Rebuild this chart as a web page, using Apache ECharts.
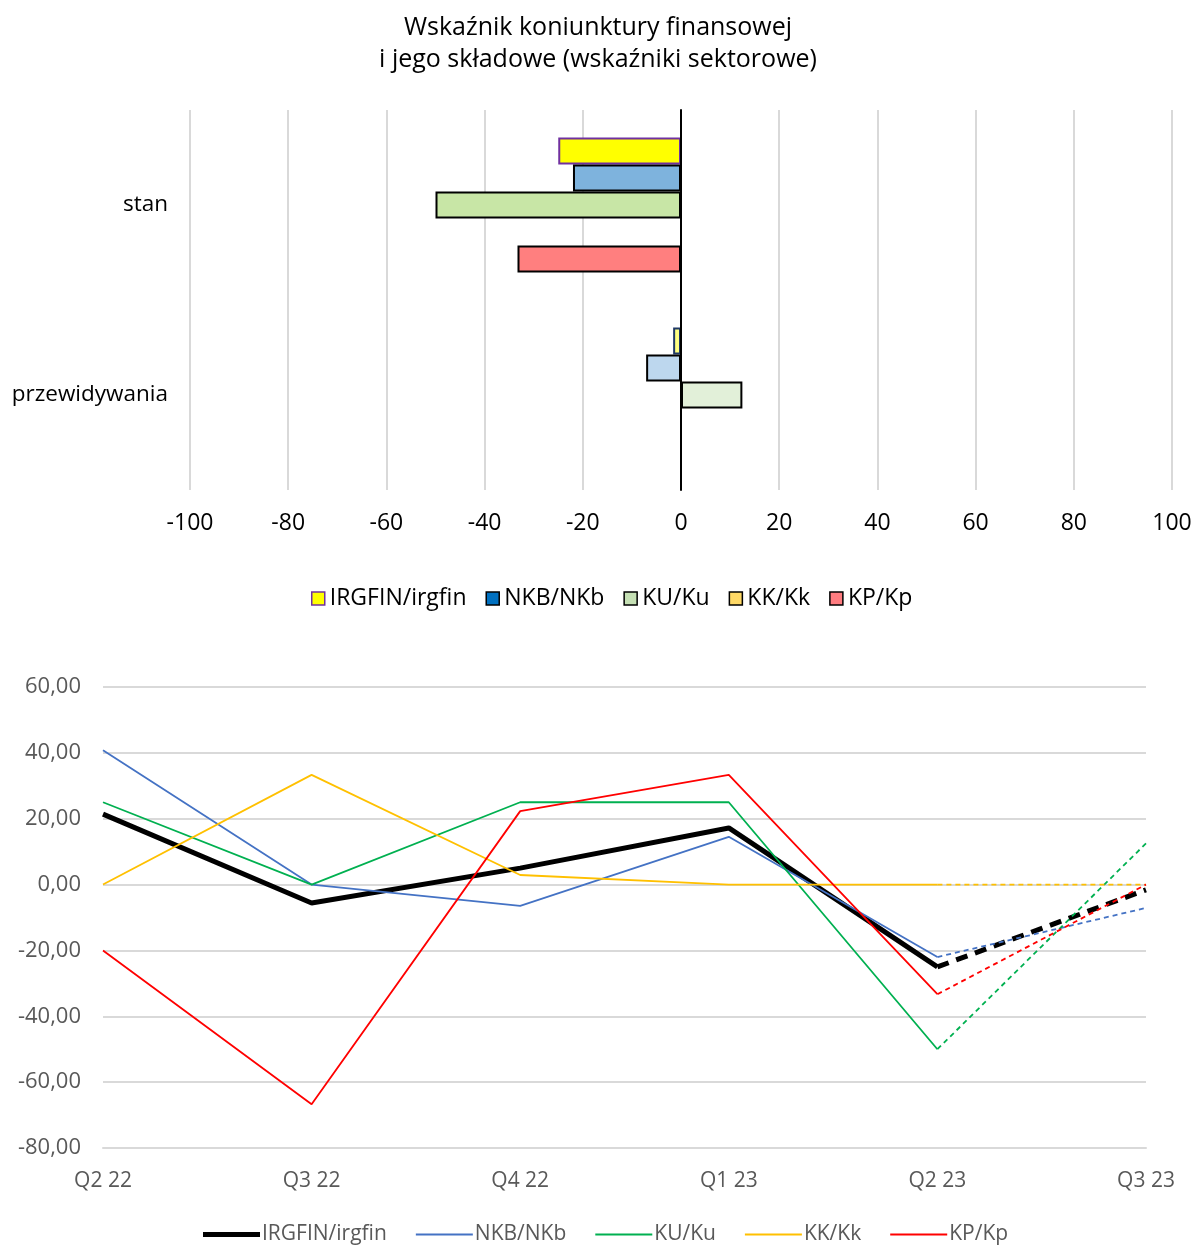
<!DOCTYPE html>
<html>
<head>
<meta charset="utf-8">
<script src="https://cdn.jsdelivr.net/npm/echarts@6/dist/echarts.min.js"></script>
<style>
  html, body { margin: 0; padding: 0; background: #fff; }
  #chart { width: 1196px; height: 1245px; }
</style>
</head>
<body>
<div id="chart"></div>
<script>
// Quarters on the time axis of the lower chart
const quarters = ['Q2 22', 'Q3 22', 'Q4 22', 'Q1 23', 'Q2 23', 'Q3 23'];
// Sector indicators per quarter (last quarter is the forecast)
const irgfin = [21.4, -5.6, 5.0, 17.2, -25.0, -1.6];
const nkb = [40.8, 0, -6.5, 14.5, -22.0, -7.1];
const ku = [25.0, 0, 25.0, 25.0, -50.0, 12.5];
const kk = [0, 33.3, 2.9, 0, 0, 0];
const kp = [-20.0, -66.7, 22.3, 33.3, -33.3, 0];

const seriesNames = ['IRGFIN/irgfin', 'NKB/NKb', 'KU/Ku', 'KK/Kk', 'KP/Kp'];
const seriesValues = [irgfin, nkb, ku, kk, kp];

// Bar chart categories: current state (Q2 23) and expectations (Q3 23)
const barCategories = ['stan', 'przewidywania'];
const valueTicks = { min: -100, max: 100, interval: 20 };
const lineTicks = { min: -80, max: 60, interval: 20 };

// Colours
const legendColors = ['#FFFF00', '#0070C0', '#C5E0B4', '#FFD966', '#FF7C80'];
const legendBorders = ['#7030A0', '#000', '#000', '#000', '#000'];
const stanColors = ['#FFFF00', '#7EB3DD', '#C8E6A6', '#FFD966', '#FF7F7F'];
const przColors = ['#FFFF80', '#BDD7EE', '#E2F0D9', '#FFE699', '#FFBFBF'];
const borderStan = ['#7030A0', '#000', '#000', '#000', '#000'];
const borderPrz = ['#1F3864', '#000', '#000', '#000', '#000'];
const lineColors = ['#000000', '#4472C4', '#00B050', '#FFC000', '#FF0000'];
const lineWidths = [5, 1.8, 1.8, 1.8, 1.8];

const FONT = 'Open Sans';
const last = quarters.length - 1;

const solidSeries = seriesNames.map((name, i) => ({
  name: name,
  type: 'line',
  xAxisIndex: 1,
  yAxisIndex: 1,
  symbol: 'none',
  z: i === 0 ? 3 : 4,
  lineStyle: { color: lineColors[i], width: lineWidths[i] },
  itemStyle: { color: lineColors[i] },
  data: seriesValues[i].map((v, k) => (k <= last - 1 ? v : '-'))
}));

// Forecast segment drawn dashed
const dashedSeries = seriesNames.map((name, i) => ({
  name: name,
  type: 'line',
  xAxisIndex: 1,
  yAxisIndex: 1,
  symbol: 'none',
  z: i === 0 ? 3 : 4,
  lineStyle: { color: lineColors[i], width: lineWidths[i], type: i === 0 ? [12, 8] : [5, 4] },
  itemStyle: { color: lineColors[i] },
  data: seriesValues[i].map((v, k) => (k >= last - 1 ? v : '-'))
}));

const barSeries = seriesNames.map((name, i) => ({
  name: name,
  type: 'bar',
  xAxisIndex: 0,
  yAxisIndex: 0,
  barGap: '0%',
  barCategoryGap: '29%',
  itemStyle: { color: legendColors[i], borderColor: legendBorders[i], borderWidth: 1.5 },
  data: [
    { value: seriesValues[i][last - 1], itemStyle: { color: stanColors[i], borderColor: borderStan[i], borderWidth: 2 } },
    { value: seriesValues[i][last], itemStyle: { color: przColors[i], borderColor: borderPrz[i], borderWidth: 2 } }
  ]
}));

const chart = echarts.init(document.getElementById('chart'), null, { renderer: 'canvas' });

chart.setOption({
  backgroundColor: '#fff',
  animation: false,
  textStyle: { fontFamily: FONT },
  title: {
    text: 'Wskaźnik koniunktury finansowej\ni jego składowe (wskaźniki sektorowe)',
    left: 'center',
    top: 7,
    textStyle: { fontFamily: FONT, fontSize: 25, fontWeight: 'normal', color: '#000', lineHeight: 32 }
  },
  legend: [
    {
      data: seriesNames.map((name, i) => ({
        name: name,
        icon: 'rect',
        itemStyle: { color: legendColors[i], borderColor: legendBorders[i], borderWidth: 1.5 }
      })),
      top: 582,
      left: 306,
      itemWidth: 13,
      itemHeight: 13,
      itemGap: 19,
      textStyle: { fontFamily: FONT, fontSize: 23, color: '#000' }
    },
    {
      data: seriesNames.map((name, i) => ({
        name: name,
        icon: 'path://M0,0H57V' + lineWidths[i] + 'H0Z',
        itemStyle: { color: lineColors[i], borderWidth: 0 }
      })),
      top: 1219,
      left: 198,
      itemWidth: 57,
      itemHeight: 14,
      itemGap: 29,
      textStyle: { fontFamily: FONT, fontSize: 21, color: '#595959', padding: [0, 0, 0, -3] }
    }
  ],
  grid: [
    { left: 190, right: 24, top: 110, height: 380 },
    { left: 103, right: 50, top: 687, height: 461 }
  ],
  xAxis: [
    {
      type: 'value',
      gridIndex: 0,
      min: valueTicks.min,
      max: valueTicks.max,
      interval: valueTicks.interval,
      axisLine: { show: false },
      axisTick: { show: false },
      axisLabel: { fontFamily: FONT, fontSize: 23, color: '#000', margin: 22 },
      splitLine: { lineStyle: { color: '#D9D9D9', width: 2 } }
    },
    {
      type: 'category',
      gridIndex: 1,
      data: quarters,
      boundaryGap: false,
      axisLine: { onZero: false, lineStyle: { color: '#D9D9D9', width: 2 } },
      axisTick: { show: false },
      axisLabel: { fontFamily: FONT, fontSize: 21, color: '#595959', margin: 23 },
      splitLine: { show: false }
    }
  ],
  yAxis: [
    {
      type: 'category',
      gridIndex: 0,
      data: barCategories,
      inverse: true,
      axisLine: { onZero: true, lineStyle: { color: '#000', width: 2 } },
      axisTick: { show: false },
      axisLabel: { fontFamily: FONT, fontSize: 22.5, color: '#000', margin: 22 },
      z: 5
    },
    {
      type: 'value',
      gridIndex: 1,
      min: lineTicks.min,
      max: lineTicks.max,
      interval: lineTicks.interval,
      axisLine: { show: false },
      axisTick: { show: false },
      axisLabel: {
        fontFamily: FONT,
        fontSize: 22,
        color: '#595959',
        margin: 22,
        formatter: v => v.toFixed(2).replace('.', ',')
      },
      splitLine: { lineStyle: { color: '#D9D9D9', width: 2 } }
    }
  ],
  series: [...solidSeries, ...dashedSeries, ...barSeries]
});
</script>
</body>
</html>
